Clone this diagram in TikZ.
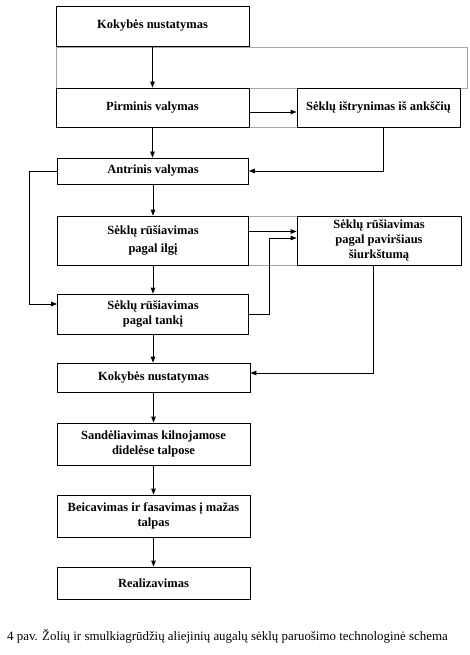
\documentclass[tikz,border=0pt]{standalone}
\usepackage{fontspec}
\setmainfont{Liberation Serif}
\usetikzlibrary{arrows.meta}
\tikzset{
  box/.style={draw=black, line width=0.8pt, align=center, inner sep=0pt,
    font=\fontsize{12.5}{15}\selectfont\bfseries},
  arr/.style={line width=0.8pt, -{Triangle[length=6pt,width=4.5pt]}},
  grayln/.style={draw=black!35, line width=0.8pt}
}
\begin{document}
\begin{tikzpicture}[x=1pt,y=-1pt]
\useasboundingbox[fill=white] (0,0) rectangle (470,655);
% gray canvas lines
\draw[grayln] (56,47) rectangle (467,88);
\draw[grayln] (249,88) -- (297,88) (249,127) -- (297,127);
\draw[grayln] (248,216) -- (297,216) (248,265) -- (297,265);
% boxes
\node[box, minimum width=193pt, minimum height=40pt, fill=white] (k1) at (152.5,26) {Kokybės nustatymas};
\node[box, minimum width=193pt, minimum height=39pt] (pv) at (152.5,107.5) {Pirminis valymas};
\node[box, minimum width=163pt, minimum height=39pt] (si) at (378.5,107.5) {Sėklų ištrynimas iš ankščių};
\node[box, minimum width=191pt, minimum height=26pt] (av) at (153,171) {Antrinis valymas};
\node[box, minimum width=191pt, minimum height=49pt] (il) at (153,240.5) {Sėklų rūšiavimas\\[3pt] pagal ilgį};
\node[box, minimum width=164pt, minimum height=49pt] (ps) at (379,240.5) {Sėklų rūšiavimas\\ pagal paviršiaus\\ šiurkštumą};
\node[box, minimum width=191pt, minimum height=40pt] (tk) at (153,314) {Sėklų rūšiavimas\\ pagal tankį};
\node[box, minimum width=193pt, minimum height=29pt] (k2) at (153.5,377.5) {Kokybės nustatymas};
\node[box, minimum width=193pt, minimum height=42pt] (sd) at (153.5,444) {Sandėliavimas kilnojamose\\ didelėse talpose};
\node[box, minimum width=193pt, minimum height=42pt] (bc) at (153.5,516) {Beicavimas ir fasavimas į mažas\\ talpas};
\node[box, minimum width=193pt, minimum height=32pt] (rl) at (153.5,583) {Realizavimas};
\node[font=\fontsize{12.9}{15}\selectfont, inner sep=0pt] (cap) at (227.5,636) {4 pav. Žolių ir smulkiagrūdžių aliejinių augalų sėklų paruošimo technologinė schema};
% connectors
\draw[arr] (k1.south) -- (pv.north);
\draw[arr] ([yshift=-4.5pt]pv.east) -- ([yshift=-4.5pt]si.west);
\draw[arr] (pv.south) -- (pv.south |- av.north);
\draw[arr] ([xshift=4.5pt]si.south) |- (av.east);
\draw[arr] (av.west) -- ++(-28,0) |- ([yshift=10pt]tk.west);
\draw[arr] (av.south) -- (il.north);
\draw[arr] ([yshift=9pt]il.east) -- ([yshift=9pt]ps.west);
\draw[arr] (tk.east) -- ++(20,0) |- ([yshift=2.5pt]ps.west);
\draw[arr] (il.south) -- (tk.north);
\draw[arr] ([xshift=-6pt]ps.south) |- ([yshift=4.5pt]k2.east);
\draw[arr] (tk.south) -- (tk.south |- k2.north);
\draw[arr] (k2.south) -- (sd.north);
\draw[arr] (sd.south) -- (bc.north);
\draw[arr] (bc.south) -- (rl.north);
\end{tikzpicture}
\end{document}
